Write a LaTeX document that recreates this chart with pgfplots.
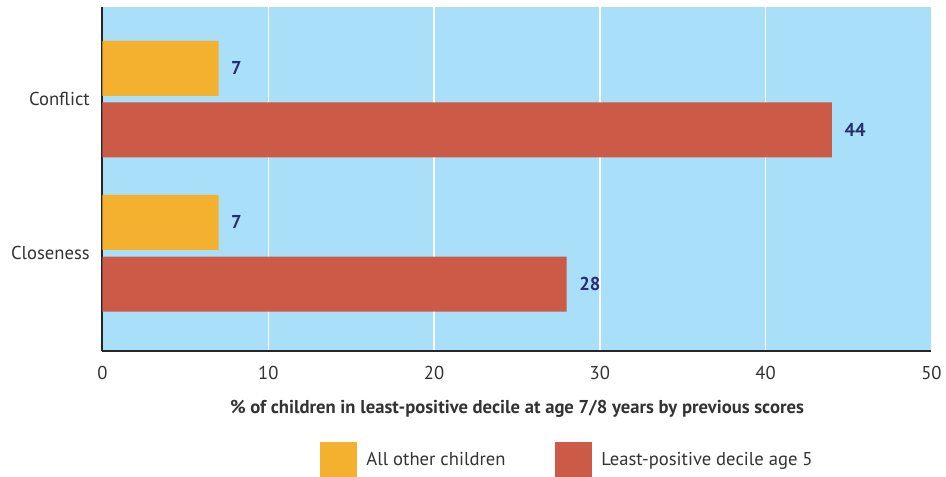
\documentclass[border=0pt]{standalone}
\usepackage{pgfplots}
\pgfplotsset{compat=1.18}
\usepackage{fontspec}
\setmainfont{PT Sans}
\definecolor{bgblue}{HTML}{AADFF9}
\definecolor{barY}{HTML}{F4B02F}
\definecolor{barR}{HTML}{CB5A47}
\definecolor{lab}{HTML}{2A2C6B}
\definecolor{txt}{HTML}{333333}
\begin{document}
\begin{tikzpicture}
\begin{axis}[
  xbar, scale only axis, width=623pt, height=259pt,
  xmin=0, xmax=50, ymin=-0.636, ymax=1.60,
  ytick={0,1}, yticklabels={Closeness,Conflict},
  xtick={0,10,...,50},
  axis background/.style={fill=bgblue},
  axis lines*=left,
  axis line style={-, line width=1.5pt, black!85},
  major tick length=0pt,
  xmajorgrids, grid style={white, line width=1pt},
  bar width=0.357,
  /pgf/number format/assume math mode=true,
  tick label style={font=\fontsize{14}{17}\selectfont, text=txt},
  xticklabel style={yshift=-8pt},
  yticklabel style={xshift=-6pt},
  xlabel={\% of children in least-positive decile at age 7/8 years by previous scores},
  xlabel style={at={(axis description cs:0.5,-0.168)}, anchor=center, font=\fontsize{14}{17}\selectfont\bfseries, text=txt},
  nodes near coords,
  nodes near coords style={font=\fontsize{14}{17}\selectfont\bfseries, text=lab, anchor=west, xshift=6pt},
  legend style={at={(0.262,-0.3145)}, anchor=west, draw=none, fill=none, inner sep=0pt,
    font=\fontsize{14}{17}\selectfont, text=txt,
    nodes={inner xsep=7pt},
    /tikz/every even column/.append style={column sep=30pt}},
  legend columns=2, legend cell align=left,
  legend image code/.code={\fill[#1] (0pt,-13pt) rectangle (28pt,13pt);},
]
\addplot[fill=barY, draw=none, bar shift=0.2] coordinates {(7,1) (7,0)};
\addplot[fill=barR, draw=none, bar shift=-0.2] coordinates {(44,1) (28,0)};
\legend{All other children, Least-positive decile age 5}
\end{axis}
\path ([yshift=5pt]current axis.north);
\path ([xshift=-5pt]current bounding box.west);
\end{tikzpicture}
\end{document}
